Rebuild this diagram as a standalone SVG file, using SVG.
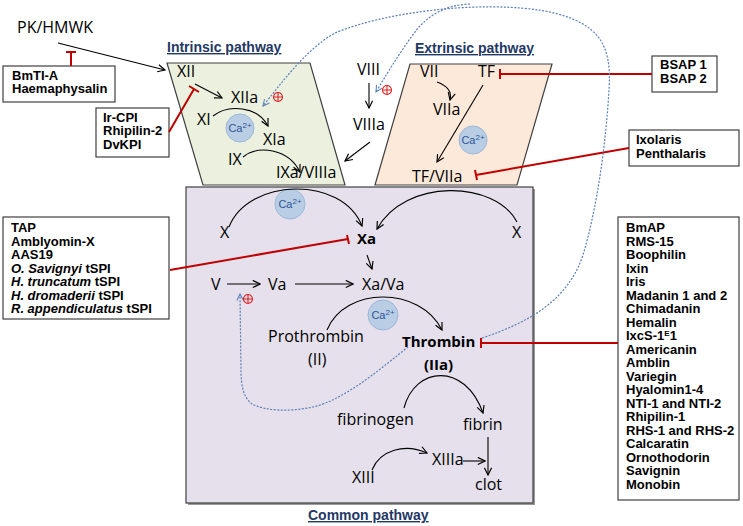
<svg xmlns="http://www.w3.org/2000/svg" width="743" height="526" viewBox="0 0 743 526">
<defs>
<style>
.n{font-family:"Open Sans","Liberation Sans",sans-serif;font-size:16px;fill:#000}
.nb{font-family:"Open Sans","Liberation Sans",sans-serif;font-size:15px;font-weight:bold;fill:#000}
.ib{font-family:"Liberation Sans",Arial,sans-serif;font-size:13px;font-weight:bold;fill:#000}
.hd{font-family:"Liberation Sans",Arial,sans-serif;font-size:14px;font-weight:bold;fill:#1f3864;text-decoration:underline}
.box{fill:#fff;stroke:#404040;stroke-width:1.2}
.ar{fill:none;stroke:#000;stroke-width:1.1}
.inh{fill:none;stroke:#c00000;stroke-width:2}
.dot{fill:none;stroke:#5a7fb8;stroke-width:1.2;stroke-dasharray:2 1.5}
.ca{fill:#b9cde5;stroke:#9bb7d9;stroke-width:1}
.cat{font-family:"Liberation Sans",Arial,sans-serif;font-size:11px;fill:#2f5597}
.plus{fill:none;stroke:#e02020;stroke-width:1.1}
</style>
<marker id="ah" viewBox="0 0 10 10" refX="9" refY="5" markerWidth="9" markerHeight="9" orient="auto" markerUnits="userSpaceOnUse"><path d="M1,1 L9,5 L1,9" fill="none" stroke="#000" stroke-width="1.3"/></marker>
<marker id="ahb" viewBox="0 0 10 10" refX="9" refY="5" markerWidth="8" markerHeight="8" orient="auto" markerUnits="userSpaceOnUse"><path d="M1,1 L9,5 L1,9" fill="none" stroke="#5a7fb8" stroke-width="1.3"/></marker>
<g id="plus"><circle cx="0" cy="0" r="4.5" class="plus"/><path d="M-4.5,0 H4.5 M0,-4.5 V4.5" class="plus"/></g>
</defs>
<rect width="743" height="526" fill="#fff"/>

<!-- pathway regions -->
<g id="common-pathway">
<rect x="188" y="189" width="347" height="316" fill="#9a9a9a"/>
<rect x="186" y="187" width="347" height="316" fill="#e5e0ec" stroke="#404040" stroke-width="1.2"/>
<text x="308" y="520" class="hd">Common pathway</text>
</g>
<g id="intrinsic-pathway">
<polygon points="167,63 310,63 345,185 203,185" fill="#ebf1de" stroke="#404040" stroke-width="1.2"/>
<text x="167" y="52" class="hd">Intrinsic pathway</text>
</g>
<g id="extrinsic-pathway">
<polygon points="410,64 552,64 517,185 375,185" fill="#fde9d9" stroke="#404040" stroke-width="1.2"/>
<text x="415" y="53" class="hd">Extrinsic pathway</text>
</g>

<!-- calcium -->
<g id="ca1"><circle cx="240" cy="128" r="14" class="ca"/><text x="240" y="132" class="cat" text-anchor="middle">Ca<tspan font-size="8" dy="-4">2+</tspan></text></g>
<g id="ca2"><circle cx="473" cy="140" r="14" class="ca"/><text x="473" y="144" class="cat" text-anchor="middle">Ca<tspan font-size="8" dy="-4">2+</tspan></text></g>
<g id="ca3"><circle cx="290" cy="204" r="15" class="ca"/><text x="290" y="208" class="cat" text-anchor="middle">Ca<tspan font-size="8" dy="-4">2+</tspan></text></g>
<g id="ca4"><circle cx="383" cy="315" r="15" class="ca"/><text x="383" y="319" class="cat" text-anchor="middle">Ca<tspan font-size="8" dy="-4">2+</tspan></text></g>

<!-- nodes -->
<g id="pk"><text x="17" y="33" class="n" font-size="17">PK/HMWK</text></g>
<g id="XII"><text x="177" y="77" class="n">XII</text></g>
<g id="XIIa"><text x="231" y="103" class="n">XIIa</text></g>
<g id="XI"><text x="197" y="125" class="n">XI</text></g>
<g id="XIa"><text x="263" y="145" class="n">XIa</text></g>
<g id="IX"><text x="228" y="165" class="n">IX</text></g>
<g id="IXaVIIIa"><text x="276" y="178" class="n">IXa/VIIIa</text></g>
<g id="VIII"><text x="357" y="75" class="n">VIII</text></g>
<g id="VIIIa"><text x="353" y="130" class="n">VIIIa</text></g>
<g id="VII"><text x="420" y="77" class="n">VII</text></g>
<g id="TF"><text x="478" y="77" class="n">TF</text></g>
<g id="VIIa"><text x="433" y="115" class="n">VIIa</text></g>
<g id="TFVIIa"><text x="412" y="182" class="n">TF/VIIa</text></g>
<g id="Xl"><text x="220" y="238" class="n">X</text></g>
<g id="Xr"><text x="512" y="238" class="n">X</text></g>
<g id="Xa"><text x="357" y="244" class="nb">Xa</text></g>
<g id="V"><text x="211" y="290" class="n">V</text></g>
<g id="Va"><text x="268" y="290" class="n">Va</text></g>
<g id="XaVa"><text x="362" y="290" class="n">Xa/Va</text></g>
<g id="prothrombin"><text x="268" y="342" class="n">Prothrombin</text><text x="308" y="365" class="n">(II)</text></g>
<g id="thrombin"><text x="402" y="347" class="nb">Thrombin</text><text x="424" y="370" class="nb">(IIa)</text></g>
<g id="fibrinogen"><text x="337" y="425" class="n">fibrinogen</text></g>
<g id="fibrin"><text x="463" y="430" class="n">fibrin</text></g>
<g id="XIII"><text x="352" y="483" class="n">XIII</text></g>
<g id="XIIIa"><text x="432" y="465" class="n">XIIIa</text></g>
<g id="clot"><text x="475" y="490" class="n">clot</text></g>

<!-- inhibitor boxes -->
<g id="box-bmti"><rect x="3" y="66" width="112" height="36" class="box"/>
<text x="12" y="79.5" class="ib">BmTI-A</text><text x="12" y="93" class="ib">Haemaphysalin</text></g>
<g id="box-ircpi"><rect x="96" y="108" width="73" height="49" class="box"/>
<text x="103" y="121.5" class="ib">Ir-CPI</text><text x="103" y="135" class="ib">Rhipilin-2</text><text x="103" y="148.5" class="ib">DvKPI</text></g>
<g id="box-bsap"><rect x="652" y="56" width="65" height="36" class="box"/>
<text x="660" y="69" class="ib">BSAP 1</text><text x="660" y="83" class="ib">BSAP 2</text></g>
<g id="box-ixolaris"><rect x="629" y="130" width="110" height="36" class="box"/>
<text x="636" y="144" class="ib">Ixolaris</text><text x="636" y="157.5" class="ib">Penthalaris</text></g>
<g id="box-tap"><rect x="3" y="217" width="166" height="102" class="box"/>
<text x="11" y="232" class="ib">TAP</text>
<text x="11" y="245.5" class="ib">Amblyomin-X</text>
<text x="11" y="259" class="ib">AAS19</text>
<text x="11" y="272.5" class="ib"><tspan font-style="italic">O. Savignyi</tspan> tSPI</text>
<text x="11" y="286" class="ib"><tspan font-style="italic">H. truncatum</tspan> tSPI</text>
<text x="11" y="299.5" class="ib"><tspan font-style="italic">H. dromaderii</tspan> tSPI</text>
<text x="11" y="313" class="ib"><tspan font-style="italic">R. appendiculatus</tspan> tSPI</text></g>
<g id="box-bmap"><rect x="618" y="217" width="121" height="283" class="box"/>
<text x="626" y="232" class="ib">BmAP</text>
<text x="626" y="245.5" class="ib">RMS-15</text>
<text x="626" y="259" class="ib">Boophilin</text>
<text x="626" y="272.5" class="ib">Ixin</text>
<text x="626" y="286" class="ib">Iris</text>
<text x="626" y="299.5" class="ib">Madanin 1 and 2</text>
<text x="626" y="313" class="ib">Chimadanin</text>
<text x="626" y="326.5" class="ib">Hemalin</text>
<text x="626" y="340" class="ib">IxcS-1<tspan font-size="8" dy="-4">E</tspan><tspan dy="4">1</tspan></text>
<text x="626" y="353.5" class="ib">Americanin</text>
<text x="626" y="367" class="ib">Amblin</text>
<text x="626" y="380.5" class="ib">Variegin</text>
<text x="626" y="394" class="ib">Hyalomin1-4</text>
<text x="626" y="407.5" class="ib">NTI-1 and NTI-2</text>
<text x="626" y="421" class="ib">Rhipilin-1</text>
<text x="626" y="434.5" class="ib">RHS-1 and RHS-2</text>
<text x="626" y="448" class="ib">Calcaratin</text>
<text x="626" y="461.5" class="ib">Ornothodorin</text>
<text x="626" y="475" class="ib">Savignin</text>
<text x="626" y="488.5" class="ib">Monobin</text></g>

<!-- connectors -->
<g id="connectors">
<path d="M58,43 L165,70" class="ar" marker-end="url(#ah)"/>
<path d="M195,84 L222,98" class="ar" marker-end="url(#ah)"/>
<path d="M213,116 C228,104 258,106 268,126" class="ar" marker-end="url(#ah)"/>
<path d="M243,157 C258,145 288,148 300,172" class="ar" marker-end="url(#ah)"/>
<path d="M369,83 L369,108" class="ar" marker-end="url(#ah)"/>
<path d="M370,142 L345,161" class="ar" marker-end="url(#ah)"/>
<path d="M437,82 C448,86 452,92 450,100" class="ar" marker-end="url(#ah)"/>
<path d="M483,85 L437,162" class="ar" marker-end="url(#ah)"/>
<path d="M229,227 C248,178 342,175 362,226" class="ar" marker-end="url(#ah)"/>
<path d="M517,222 C495,180 405,178 377,229" class="ar" marker-end="url(#ah)"/>
<path d="M367,255 L372,269" class="ar" marker-end="url(#ah)"/>
<path d="M227,284 L260,284" class="ar" marker-end="url(#ah)"/>
<path d="M295,284 L353,284" class="ar" marker-end="url(#ah)"/>
<path d="M327,330 C345,286 420,286 442,330" class="ar" marker-end="url(#ah)"/>
<path d="M404,408 C415,366 465,362 483,413" class="ar" marker-end="url(#ah)"/>
<path d="M488,437 L488,475" class="ar" marker-end="url(#ah)"/>
<path d="M372,470 C380,450 405,443 427,453" class="ar" marker-end="url(#ah)"/>
<path d="M463,461 L485,461" class="ar" marker-end="url(#ah)"/>

<!-- inhibitions -->
<path d="M71,66 L71,52 M66,52 L76,52" class="inh"/>
<path d="M169,132 L194,89 M189,86 L199,92" class="inh"/>
<path d="M652,74 L500,74 M500,69 L500,79" class="inh"/>
<path d="M629,148 L476,175 M475,170 L477,180" class="inh"/>
<path d="M170,270 L348,239 M347,235 L349,244" class="inh"/>
<path d="M618,343 L481,343 M481,338 L481,348" class="inh"/>

<!-- positive feedback (dotted) -->
<path d="M482,338 C530,322 568,300 583,255 C598,205 606,140 609,90 C612,45 600,22 545,11 C480,0 385,12 335,33 C305,50 280,85 263,106" class="dot" marker-end="url(#ahb)"/>
<path d="M470,4 C445,5 430,15 418,28 C405,45 392,65 376,92" class="dot" marker-end="url(#ahb)"/>
<path d="M408,347 C385,365 345,400 313,407 C290,412 265,411 252,404 C243,397 241,385 241,370 L240,294" class="dot" marker-end="url(#ahb)"/>
<use href="#plus" x="278" y="97"/>
<use href="#plus" x="387" y="90"/>
<use href="#plus" x="248" y="299"/>
</g>
</svg>
